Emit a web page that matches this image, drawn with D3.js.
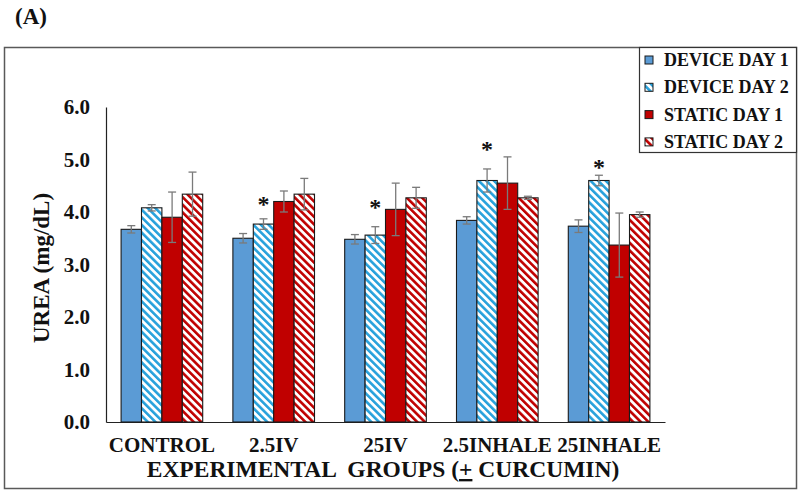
<!DOCTYPE html>
<html><head><meta charset="utf-8">
<script src="https://cdn.jsdelivr.net/npm/d3@7"></script>
<style>
html,body{margin:0;padding:0;background:#fff;}
svg{display:block;}
text{font-family:"Liberation Serif","Times New Roman",serif;font-weight:bold;fill:#111;}
</style></head>
<body>
<script>
const categories = ["CONTROL", "2.5IV", "25IV", "2.5INHALE", "25INHALE"];
const seriesNames = ["DEVICE DAY 1", "DEVICE DAY 2", "STATIC DAY 1", "STATIC DAY 2"];
const deviceDay1 = [3.67, 3.50, 3.48, 3.84, 3.73];
const deviceDay2 = [4.08, 3.77, 3.56, 4.60, 4.60];
const staticDay1 = [3.90, 4.20, 4.05, 4.55, 3.37];
const staticDay2 = [4.34, 4.34, 4.27, 4.27, 3.95];
const errDevice1 = [0.07, 0.09, 0.09, 0.07, 0.12];
const errDevice2 = [0.06, 0.10, 0.16, 0.22, 0.10];
const errStatic1 = [0.48, 0.20, 0.50, 0.50, 0.61];
const errStatic2 = [0.42, 0.30, 0.20, 0.03, 0.05];
const starLevel = [null, 4.23, 4.17, 5.28, 4.93];   // "*" marks above DEVICE DAY 2
const yTicks = [0, 1, 2, 3, 4, 5, 6];
const yTitle = "UREA (mg/dL)";
const panelLabel = "(A)";

const W = 800, H = 499;
const svg = d3.select("body").append("svg").attr("width", W).attr("height", H);

const defs = svg.append("defs");
function hatch(id, color) {
  const p = defs.append("pattern").attr("id", id).attr("patternUnits", "userSpaceOnUse")
    .attr("width", 5.4).attr("height", 5.4).attr("patternTransform", "rotate(-45)");
  p.append("rect").attr("width", 5.4).attr("height", 5.4).attr("fill", "#fff");
  p.append("rect").attr("x", 0).attr("width", 2.6).attr("height", 5.4).attr("fill", color);
}
hatch("hBlue", "#27a1dc");
hatch("hRed", "#c00000");

const fills = ["#5b9bd5", "url(#hBlue)", "#c00000", "url(#hRed)"];
const values = [deviceDay1, deviceDay2, staticDay1, staticDay2];
const errs = [errDevice1, errDevice2, errStatic1, errStatic2];

// outer frame
svg.append("rect").attr("x", 4.5).attr("y", 47.5).attr("width", 792).attr("height", 441)
  .attr("fill", "none").attr("stroke", "#595959").attr("stroke-width", 1.5);

svg.append("text").attr("x", 15).attr("y", 24).attr("font-size", 23).text(panelLabel);

const x0 = d3.scaleBand().domain(categories).range([106, 665]).paddingInner(0.27).paddingOuter(0.135);
const x1 = d3.scaleBand().domain(seriesNames).range([0, x0.bandwidth()]);
const y = d3.scaleLinear().domain([0, 6]).range([422, 107]);

// y axis
const yAxis = d3.axisLeft(y).tickValues(yTicks).tickFormat(d3.format(".1f")).tickSize(0).tickPadding(16);
const gy = svg.append("g").attr("transform", "translate(106,0)").call(yAxis);
gy.select(".domain").attr("stroke", "#222").attr("stroke-width", 1.2);
gy.selectAll("text").attr("font-size", 21).attr("font-family", "Liberation Serif").attr("font-weight", "bold").attr("fill", "#111");

// x axis
const xAxis = d3.axisBottom(x0).tickSize(0).tickPadding(15);
const gx = svg.append("g").attr("transform", "translate(0,422)").call(xAxis);
gx.select(".domain").attr("stroke", "#222").attr("stroke-width", 1.2);
gx.selectAll("text").attr("font-size", 21).attr("font-family", "Liberation Serif").attr("font-weight", "bold").attr("fill", "#111");

// bars
const groups = svg.append("g").selectAll("g").data(categories).join("g")
  .attr("transform", d => `translate(${x0(d)},0)`);
seriesNames.forEach((s, si) => {
  groups.append("rect")
    .attr("x", x1(s)).attr("width", x1.bandwidth())
    .attr("y", (d, i) => y(values[si][i]))
    .attr("height", (d, i) => y(0) - y(values[si][i]))
    .attr("fill", fills[si]).attr("stroke", "#1a1a1a").attr("stroke-width", 1.1);
});
// error bars
seriesNames.forEach((s, si) => {
  groups.each(function (d, i) {
    const g = d3.select(this);
    const cx = x1(s) + x1.bandwidth() / 2;
    const v = values[si][i], e = errs[si][i];
    const col = "#7a7a7a";
    g.append("line").attr("x1", cx).attr("x2", cx).attr("y1", y(v + e)).attr("y2", y(v - e)).attr("stroke", col).attr("stroke-width", 1.3);
    [v + e, v - e].forEach(t => g.append("line").attr("x1", cx - 4).attr("x2", cx + 4).attr("y1", y(t)).attr("y2", y(t)).attr("stroke", col).attr("stroke-width", 1.3));
  });
});
// stars
groups.each(function (d, i) {
  if (starLevel[i] == null) return;
  d3.select(this).append("text")
    .attr("x", x1(seriesNames[1]) + x1.bandwidth() / 2).attr("y", y(starLevel[i]) + 12)
    .attr("text-anchor", "middle").attr("font-size", 24).text("*");
});

// y title
svg.append("text").attr("transform", "translate(49,268) rotate(-90)")
  .attr("text-anchor", "middle").attr("font-size", 23).text(yTitle);

// x title
const xt = svg.append("text").attr("x", 383).attr("y", 477).attr("text-anchor", "middle").attr("font-size", 23.5)
  .attr("xml:space", "preserve");
xt.append("tspan").text("EXPERIMENTAL  GROUPS (");
xt.append("tspan").attr("text-decoration", "underline").text("+");
xt.append("tspan").text(" CURCUMIN)");

// legend
const lg = svg.append("g");
lg.append("rect").attr("x", 639.5).attr("y", 47.5).attr("width", 157).attr("height", 105)
  .attr("fill", "#fff").attr("stroke", "#333").attr("stroke-width", 1.2);
seriesNames.forEach((s, si) => {
  const cy = 60 + si * 27.3;
  lg.append("rect").attr("x", 645).attr("y", cy - 4).attr("width", 8).attr("height", 8)
    .attr("fill", fills[si]).attr("stroke", "#1a1a1a").attr("stroke-width", 1);
  lg.append("text").attr("x", 664).attr("y", cy + 6).attr("font-size", 18).text(s);
});
</script>
</body></html>
